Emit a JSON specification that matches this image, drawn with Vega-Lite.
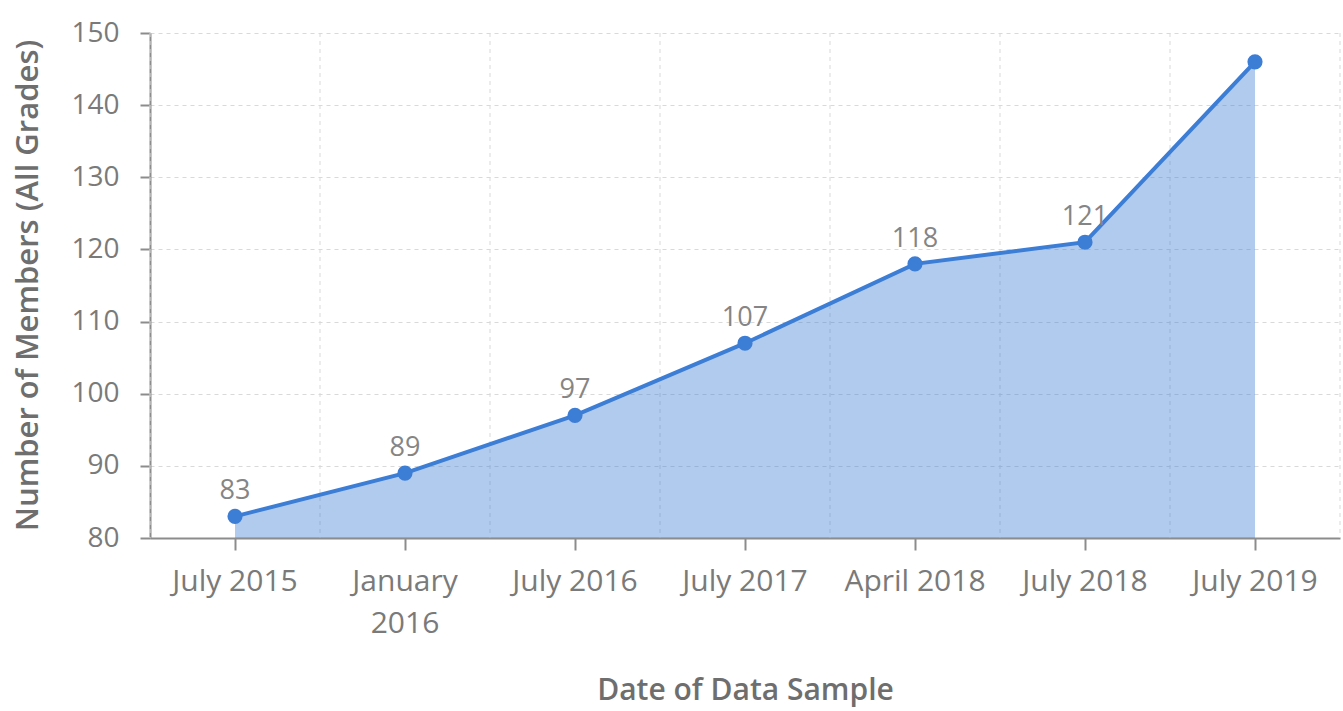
{
  "$schema": "https://vega.github.io/schema/vega-lite/v6.json",
  "width": 1190,
  "height": 505,
  "autosize": "none",
  "padding": {"left": 150, "top": 33, "right": 3, "bottom": 173},
  "background": "white",
  "config": {
    "font": "Open Sans",
    "view": {"stroke": null}
  },
  "data": {
    "values": [
      {"date": "July 2015", "members": 83},
      {"date": "January 2016", "members": 89},
      {"date": "July 2016", "members": 97},
      {"date": "July 2017", "members": 107},
      {"date": "April 2018", "members": 118},
      {"date": "July 2018", "members": 121},
      {"date": "July 2019", "members": 146}
    ]
  },
  "layer": [
    {
      "mark": {"type": "rule", "color": "#d9d9d9", "strokeWidth": 1, "strokeDash": [4, 4]},
      "encoding": {
        "x": {
          "field": "date", "type": "nominal", "sort": null, "bandPosition": 0,
          "scale": {"type": "band", "paddingInner": 0, "paddingOuter": 0},
          "axis": {
            "title": "Date of Data Sample",
            "grid": false,
            "domain": true,
            "domainColor": "#8c8c8c",
            "domainWidth": 2,
            "tickColor": "#8c8c8c",
            "tickWidth": 2,
            "tickSize": 12,
            "labelPadding": 16,
            "labelFontSize": 30,
            "labelColor": "#7a7a7a",
            "labelAngle": 0,
            "labelLineHeight": 42,
            "labelBaseline": "top",
            "labelExpr": "datum.label == 'January 2016' ? ['January', '2016'] : datum.label",
            "titleFontSize": 30,
            "titleColor": "#6e6e6e",
            "titleFontWeight": 600,
            "titleX": 595,
            "titleY": 152,
            "titleBaseline": "middle",
            "titleAlign": "center"
          }
        }
      }
    },
    {
      "transform": [{"filter": "datum.date == 'July 2019'"}],
      "mark": {"type": "rule", "color": "#d9d9d9", "strokeWidth": 1, "strokeDash": [4, 4]},
      "encoding": {
        "x": {"field": "date", "type": "nominal", "sort": null, "bandPosition": 1}
      }
    },
    {
      "mark": {"type": "area", "color": "#3c7dd6", "opacity": 0.4},
      "encoding": {
        "x": {"field": "date", "type": "nominal", "sort": null, "bandPosition": 0.5},
        "y": {
          "field": "members", "type": "quantitative",
          "scale": {"domain": [80, 150], "zero": false, "nice": false},
          "axis": {
            "title": "Number of Members (All Grades)",
            "values": [80, 90, 100, 110, 120, 130, 140, 150],
            "grid": true,
            "gridColor": "#d9d9d9",
            "gridDash": [4, 4],
            "gridWidth": 1,
            "domainColor": "#8c8c8c",
            "domainWidth": 2,
            "tickColor": "#8c8c8c",
            "tickWidth": 2,
            "tickSize": 10,
            "labelPadding": 21,
            "labelFontSize": 28,
            "labelColor": "#7a7a7a",
            "titleFontSize": 31,
            "titleColor": "#6e6e6e",
            "titleFontWeight": 600,
            "titleX": -122,
            "titleY": 252,
            "titleAngle": -90,
            "titleBaseline": "middle",
            "titleAlign": "center"
          }
        },
        "y2": {"datum": 80}
      }
    },
    {
      "mark": {"type": "line", "color": "#3c7dd6", "strokeWidth": 4},
      "encoding": {
        "x": {"field": "date", "type": "nominal", "sort": null, "bandPosition": 0.5},
        "y": {"field": "members", "type": "quantitative"}
      }
    },
    {
      "mark": {"type": "point", "filled": true, "color": "#3c7dd6", "size": 230, "opacity": 1},
      "encoding": {
        "x": {"field": "date", "type": "nominal", "sort": null, "bandPosition": 0.5},
        "y": {"field": "members", "type": "quantitative"}
      }
    },
    {
      "transform": [{"filter": "datum.date != 'July 2019'"}],
      "mark": {"type": "text", "fontSize": 27, "color": "#858585", "dy": -25, "baseline": "middle"},
      "encoding": {
        "x": {"field": "date", "type": "nominal", "sort": null, "bandPosition": 0.5},
        "y": {"field": "members", "type": "quantitative"},
        "text": {"field": "members", "type": "quantitative"}
      }
    }
  ]
}
